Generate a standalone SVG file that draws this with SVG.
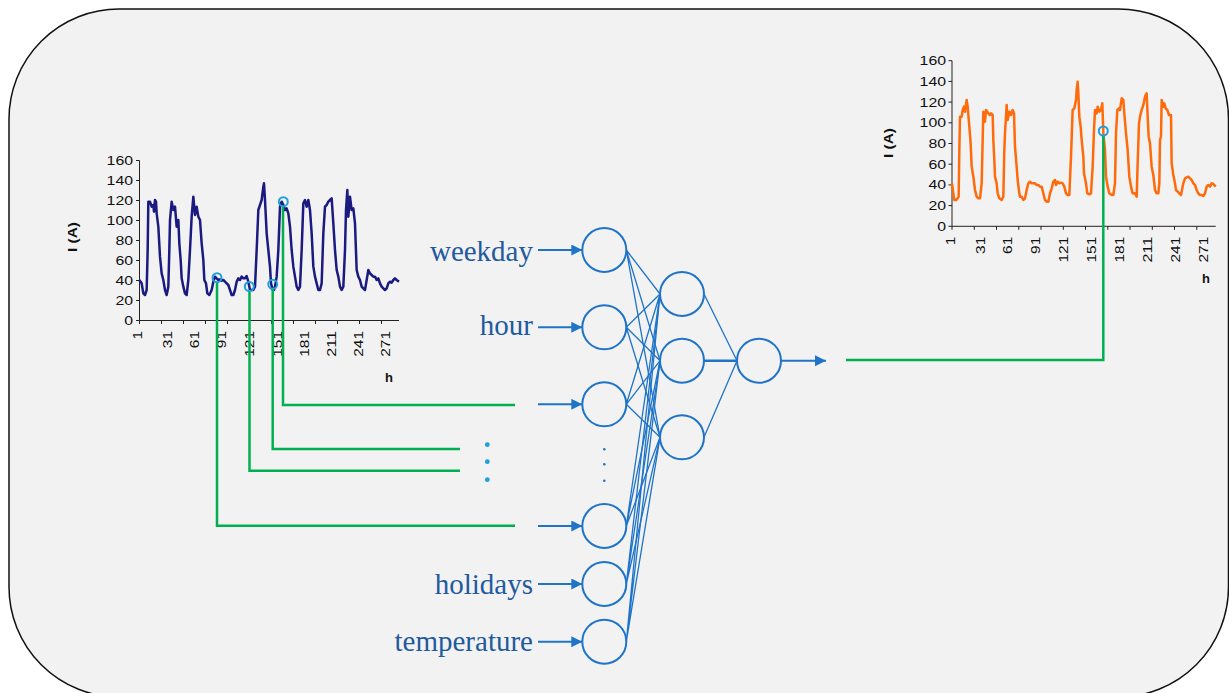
<svg xmlns="http://www.w3.org/2000/svg" width="1229" height="693" viewBox="0 0 1229 693">
<style>
.ax{stroke:#222;stroke-width:1;fill:none}
.tl{font-family:"Liberation Sans",Arial,sans-serif;font-size:12.5px;fill:#111}
.tb{font-family:"Liberation Sans",Arial,sans-serif;font-size:13px;font-weight:bold;fill:#111}
.lab{font-family:"Liberation Serif","Times New Roman",serif;font-size:29px;fill:#1f5a9e}
.nn{fill:none;stroke:#1f74c8;stroke-width:2}
.cn{stroke:#1f74c8;stroke-width:1.3;fill:none}
.ar{stroke:#1f74c8;stroke-width:2;fill:none}
.gr{stroke:#00b050;stroke-width:2.5;fill:none}
.pt{fill:none;stroke:#1ea0dc;stroke-width:2}
</style>
<defs>
<marker id="ah" markerUnits="userSpaceOnUse" markerWidth="12" markerHeight="12" refX="11" refY="5.5" orient="auto">
<path d="M0,0 L11,5.5 L0,11 z" fill="#1f74c8"/>
</marker>
</defs>
<rect x="9" y="9" width="1219.5" height="688" rx="110" ry="110" fill="#f2f2f2" stroke="#111" stroke-width="1.5"/>

<g id="chart-input">
<g class="ax">
<line x1="139.5" y1="160.5" x2="139.5" y2="320.5"/>
<line x1="139.5" y1="320.5" x2="399" y2="320.5"/>
<path d="M136,320.5H139.5M136,300.5H139.5M136,280.5H139.5M136,260.5H139.5M136,240.5H139.5M136,220.5H139.5M136,200.5H139.5M136,180.5H139.5M136,160.5H139.5"/>
<path d="M139.5,320.5V324M161.5,320.5V324M183.5,320.5V324M205.5,320.5V324M227.5,320.5V324M249.5,320.5V324M271.5,320.5V324M293.5,320.5V324M315.5,320.5V324M337.5,320.5V324M359.5,320.5V324M381.5,320.5V324"/>
</g>
<g class="tl" text-anchor="end">
<text x="133" y="325" textLength="8.8" lengthAdjust="spacingAndGlyphs">0</text>
<text x="133" y="305" textLength="17.6" lengthAdjust="spacingAndGlyphs">20</text>
<text x="133" y="285" textLength="17.6" lengthAdjust="spacingAndGlyphs">40</text>
<text x="133" y="265" textLength="17.6" lengthAdjust="spacingAndGlyphs">60</text>
<text x="133" y="245" textLength="17.6" lengthAdjust="spacingAndGlyphs">80</text>
<text x="133" y="225" textLength="26.4" lengthAdjust="spacingAndGlyphs">100</text>
<text x="133" y="205" textLength="26.4" lengthAdjust="spacingAndGlyphs">120</text>
<text x="133" y="185" textLength="26.4" lengthAdjust="spacingAndGlyphs">140</text>
<text x="133" y="165" textLength="26.4" lengthAdjust="spacingAndGlyphs">160</text>
<text transform="translate(141.8 331) rotate(-90)" textLength="8.6" lengthAdjust="spacingAndGlyphs">1</text>
<text transform="translate(171.8 331) rotate(-90)" textLength="17.2" lengthAdjust="spacingAndGlyphs">31</text>
<text transform="translate(198.5 331) rotate(-90)" textLength="17.2" lengthAdjust="spacingAndGlyphs">61</text>
<text transform="translate(226.2 331) rotate(-90)" textLength="17.2" lengthAdjust="spacingAndGlyphs">91</text>
<text transform="translate(253.8 331) rotate(-90)" textLength="25.8" lengthAdjust="spacingAndGlyphs">121</text>
<text transform="translate(282.2 331) rotate(-90)" textLength="25.8" lengthAdjust="spacingAndGlyphs">151</text>
<text transform="translate(308.8 331) rotate(-90)" textLength="25.8" lengthAdjust="spacingAndGlyphs">181</text>
<text transform="translate(336.2 331) rotate(-90)" textLength="25.8" lengthAdjust="spacingAndGlyphs">211</text>
<text transform="translate(362.8 331) rotate(-90)" textLength="25.8" lengthAdjust="spacingAndGlyphs">241</text>
<text transform="translate(389.5 331) rotate(-90)" textLength="25.8" lengthAdjust="spacingAndGlyphs">271</text>
</g>
<text class="tb" x="389" y="382" text-anchor="middle">h</text>
<text class="tb" transform="translate(76.5 237) rotate(-90)" text-anchor="middle" textLength="30" lengthAdjust="spacingAndGlyphs">I (A)</text>
<polyline transform="translate(50 150) scale(0.33333)" fill="none" stroke="#1a1a80" stroke-width="7.5" stroke-linejoin="round" points="268,390 275,400 280,430 285,435 290,420 293,300 295,155 300,155 305,170 310,165 312,185 315,150 318,155 320,190 325,230 330,320 335,370 340,390 345,420 350,435 355,410 358,300 360,210 365,155 370,180 375,170 380,230 385,210 388,280 392,330 395,385 400,410 405,430 410,435 415,390 420,300 425,200 430,140 435,195 440,170 445,200 450,210 455,280 460,330 463,390 468,400 472,430 478,435 485,420 490,395 495,380 500,385 505,390 510,388 515,392 520,390 525,395 530,400 535,405 540,420 545,435 550,435 555,420 560,395 565,385 570,390 575,380 580,385 585,385 590,378 595,395 600,420 605,420 610,420 615,410 620,300 625,180 630,165 635,150 640,110 642,100 645,150 650,250 655,300 660,350 663,400 668,420 672,420 675,410 680,380 685,300 690,170 695,155 700,165 705,180 710,175 715,190 720,230 725,300 730,350 735,380 740,410 745,420 750,410 755,300 760,160 765,150 770,170 775,150 780,180 785,250 790,350 795,380 800,400 805,420 810,420 815,400 820,250 825,170 830,165 835,155 840,150 845,145 850,220 855,300 860,360 865,380 870,410 875,420 880,410 885,300 888,180 892,120 895,200 900,140 905,180 910,175 915,220 920,360 925,380 930,390 935,410 940,415 945,420 950,390 955,360 960,370 965,375 970,380 975,380 980,390 985,385 990,400 995,410 1000,415 1005,420 1010,415 1015,400 1020,395 1025,398 1030,390 1035,385 1040,390 1047,395"/>
</g>

<g id="chart-output">
<g class="ax">
<line x1="952" y1="60.7" x2="952" y2="226.3"/>
<line x1="952" y1="226.3" x2="1215.7" y2="226.3"/>
<path d="M948.5,226.3H952M948.5,205.6H952M948.5,184.9H952M948.5,164.2H952M948.5,143.5H952M948.5,122.8H952M948.5,102.1H952M948.5,81.4H952M948.5,60.7H952"/>
<path d="M952,226.3V229.8M974.3,226.3V229.8M996.5,226.3V229.8M1018.8,226.3V229.8M1041,226.3V229.8M1063.3,226.3V229.8M1085.5,226.3V229.8M1107.8,226.3V229.8M1130,226.3V229.8M1152.3,226.3V229.8M1174.5,226.3V229.8M1196.8,226.3V229.8"/>
</g>
<g class="tl" text-anchor="end">
<text x="946" y="230.8" textLength="8.8" lengthAdjust="spacingAndGlyphs">0</text>
<text x="946" y="210.1" textLength="17.6" lengthAdjust="spacingAndGlyphs">20</text>
<text x="946" y="189.4" textLength="17.6" lengthAdjust="spacingAndGlyphs">40</text>
<text x="946" y="168.7" textLength="17.6" lengthAdjust="spacingAndGlyphs">60</text>
<text x="946" y="148" textLength="17.6" lengthAdjust="spacingAndGlyphs">80</text>
<text x="946" y="127.3" textLength="26.4" lengthAdjust="spacingAndGlyphs">100</text>
<text x="946" y="106.6" textLength="26.4" lengthAdjust="spacingAndGlyphs">120</text>
<text x="946" y="85.9" textLength="26.4" lengthAdjust="spacingAndGlyphs">140</text>
<text x="946" y="65.2" textLength="26.4" lengthAdjust="spacingAndGlyphs">160</text>
<text transform="translate(954.5 236.7) rotate(-90)" textLength="8.6" lengthAdjust="spacingAndGlyphs">1</text>
<text transform="translate(984.5 236.7) rotate(-90)" textLength="17.2" lengthAdjust="spacingAndGlyphs">31</text>
<text transform="translate(1012.2 236.7) rotate(-90)" textLength="17.2" lengthAdjust="spacingAndGlyphs">61</text>
<text transform="translate(1040.2 236.7) rotate(-90)" textLength="17.2" lengthAdjust="spacingAndGlyphs">91</text>
<text transform="translate(1067.8 236.7) rotate(-90)" textLength="25.8" lengthAdjust="spacingAndGlyphs">121</text>
<text transform="translate(1095.5 236.7) rotate(-90)" textLength="25.8" lengthAdjust="spacingAndGlyphs">151</text>
<text transform="translate(1123.8 236.7) rotate(-90)" textLength="25.8" lengthAdjust="spacingAndGlyphs">181</text>
<text transform="translate(1151.8 236.7) rotate(-90)" textLength="25.8" lengthAdjust="spacingAndGlyphs">211</text>
<text transform="translate(1179.5 236.7) rotate(-90)" textLength="25.8" lengthAdjust="spacingAndGlyphs">241</text>
<text transform="translate(1207.8 236.7) rotate(-90)" textLength="25.8" lengthAdjust="spacingAndGlyphs">271</text>
</g>
<text class="tb" x="1206" y="283" text-anchor="middle">h</text>
<text class="tb" transform="translate(892.5 143) rotate(-90)" text-anchor="middle" textLength="30" lengthAdjust="spacingAndGlyphs">I (A)</text>
<polyline transform="translate(870 50) scale(0.33333)" fill="none" stroke="#ff6a0a" stroke-width="7.5" stroke-linejoin="round" points="246,400 250,430 253,450 258,450 263,445 266,440 268,300 270,200 275,200 278,180 282,170 285,185 290,150 293,170 298,230 302,280 305,350 310,380 315,420 320,440 325,445 330,445 335,400 338,270 340,185 345,215 348,180 352,185 355,190 360,195 363,190 368,195 370,270 373,330 375,380 380,400 383,430 388,445 395,450 400,440 403,300 405,250 410,165 413,210 418,185 423,195 428,180 432,190 435,290 440,350 443,390 448,430 450,440 455,440 460,450 465,445 470,420 475,400 480,395 485,400 490,400 495,400 500,405 505,405 510,410 515,410 520,430 525,450 530,455 535,455 540,430 545,415 550,395 555,390 558,405 563,395 568,400 573,398 578,400 583,410 588,430 593,435 598,435 603,320 608,180 613,175 618,150 620,120 623,95 625,130 628,200 632,230 635,270 640,320 642,370 648,400 652,430 658,433 663,430 668,350 672,240 675,180 680,190 683,170 688,185 693,180 697,160 700,250 705,300 708,380 713,410 718,430 725,435 730,435 735,400 738,250 742,180 747,175 750,180 755,145 760,150 763,190 768,250 773,300 778,380 783,410 788,430 795,430 800,440 803,340 807,220 810,200 815,180 820,165 825,140 830,130 833,200 836,260 840,280 845,350 850,375 855,420 860,430 865,430 868,400 870,270 873,260 875,150 880,170 883,160 887,175 892,180 897,195 903,195 905,340 910,375 915,400 918,420 923,425 928,430 933,435 940,400 945,385 950,382 955,380 960,385 965,390 970,400 975,405 980,420 985,430 990,435 995,435 1000,438 1005,430 1010,410 1015,405 1020,410 1025,400 1030,402 1037,410"/>
</g>

<g id="connectors">
<g class="gr">
<polyline points="283,206 283,405 515,405"/>
<polyline points="272.7,289 272.7,449 460,449"/>
<polyline points="249.5,291 249.5,470.7 460,470.7"/>
<polyline points="217,282 217,525.7 515,525.7"/>
<polyline points="1103.3,135.5 1103.3,360 846,360"/>
</g>
<g class="cn">
<path d="M626.3,250L660,294M626.3,250L660,360.7M626.3,250L660,437.3"/>
<path d="M626.3,327.3L660,294M626.3,327.3L660,360.7M626.3,327.3L660,437.3"/>
<path d="M626.3,404.3L660,294M626.3,404.3L660,360.7M626.3,404.3L660,437.3"/>
<path d="M626.3,526L660,294M626.3,526L660,360.7M626.3,526L660,437.3"/>
<path d="M626.3,584L660,294M626.3,584L660,360.7M626.3,584L660,437.3"/>
<path d="M626.3,641.7L660,294M626.3,641.7L660,360.7M626.3,641.7L660,437.3"/>
<path d="M704,294L737,360.7M704,437.3L737,360.7"/>
</g>
<path d="M704,360.7H737" stroke="#1f74c8" stroke-width="2.5"/>
<g class="ar" marker-end="url(#ah)">
<line x1="538" y1="250" x2="582.3" y2="250"/>
<line x1="538" y1="327.3" x2="582.3" y2="327.3"/>
<line x1="538" y1="404.3" x2="582.3" y2="404.3"/>
<line x1="538" y1="526" x2="582.3" y2="526"/>
<line x1="538" y1="584" x2="582.3" y2="584"/>
<line x1="538" y1="641.7" x2="582.3" y2="641.7"/>
<line x1="781" y1="360.7" x2="826" y2="360.7"/>
</g>
</g>

<g id="markers">
<circle class="pt" cx="217" cy="277.7" r="4.5"/>
<circle class="pt" cx="249.3" cy="286.5" r="4.5"/>
<circle class="pt" cx="272.7" cy="284.3" r="4.5"/>
<circle class="pt" cx="283.3" cy="201.7" r="4.5"/>
<circle class="pt" cx="1103.3" cy="131" r="4.5"/>
</g>

<g id="ellipsis" fill="#1ea0dc">
<circle cx="487.3" cy="444.7" r="2.4"/>
<circle cx="487.3" cy="461.7" r="2.4"/>
<circle cx="487.3" cy="479.7" r="2.4"/>
</g>
<g id="ellipsis-nodes" fill="#1f74c8">
<circle cx="604.3" cy="449.3" r="1.3"/>
<circle cx="604.3" cy="464.3" r="1.3"/>
<circle cx="604.3" cy="480.7" r="1.3"/>
</g>

<g id="in-weekday"><circle class="nn" cx="604.3" cy="250" r="22"/><text class="lab" x="533" y="260.5" text-anchor="end">weekday</text></g>
<g id="in-hour"><circle class="nn" cx="604.3" cy="327.3" r="22"/><text class="lab" x="533" y="334.5" text-anchor="end">hour</text></g>
<g id="in-lag1"><circle class="nn" cx="604.3" cy="404.3" r="22"/></g>
<g id="in-lagn"><circle class="nn" cx="604.3" cy="526" r="22"/></g>
<g id="in-holidays"><circle class="nn" cx="604.3" cy="584" r="22"/><text class="lab" x="533" y="594" text-anchor="end">holidays</text></g>
<g id="in-temperature"><circle class="nn" cx="604.3" cy="641.7" r="22"/><text class="lab" x="533" y="650.7" text-anchor="end">temperature</text></g>
<g id="hid-1"><circle class="nn" cx="682" cy="294" r="22"/></g>
<g id="hid-2"><circle class="nn" cx="682" cy="360.7" r="22"/></g>
<g id="hid-3"><circle class="nn" cx="682" cy="437.3" r="22"/></g>
<g id="out"><circle class="nn" cx="759" cy="360.7" r="22"/></g>
</svg>
